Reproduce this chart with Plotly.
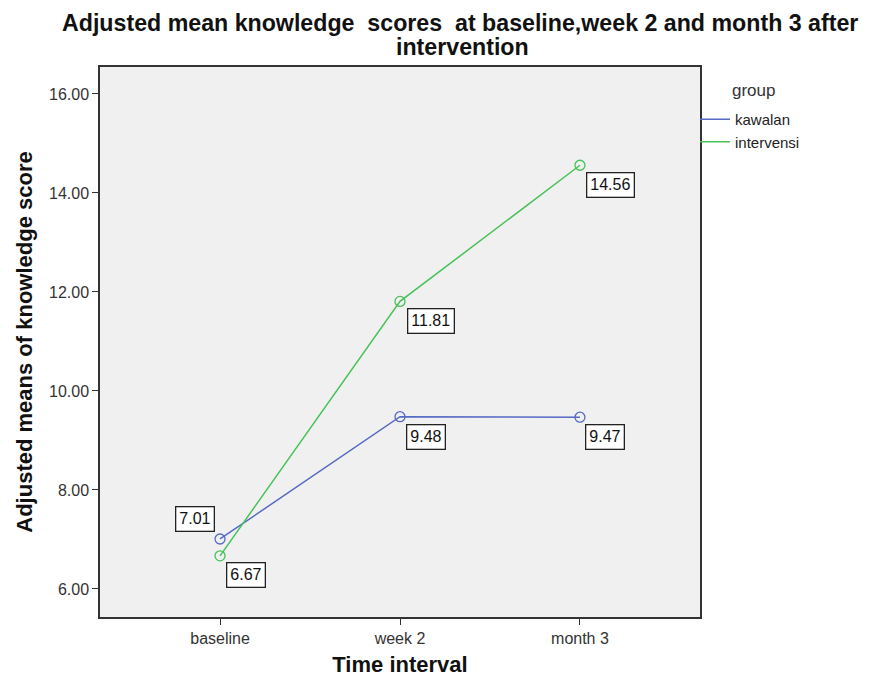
import plotly.graph_objects as go

categories = ["baseline", "week 2", "month 3"]
kawalan = [7.01, 9.48, 9.47]
intervensi = [6.67, 11.81, 14.56]
kawalan_labels = ["7.01", "9.48", "9.47"]
intervensi_labels = ["6.67", "11.81", "14.56"]
y_ticks = [6, 8, 10, 12, 14, 16]
y_tick_text = ["6.00", "8.00", "10.00", "12.00", "14.00", "16.00"]

BLUE = "#5669c4"
GREEN = "#45c257"


def px(xp):
    return (xp - 100) / 600


def py(yp):
    return (617 - yp) / 550


fig = go.Figure()
xs = [0, 1, 2]
for name, vals, col in [("kawalan", kawalan, BLUE), ("intervensi", intervensi, GREEN)]:
    fig.add_trace(go.Scatter(
        x=xs, y=vals, mode="lines+markers", name=name, showlegend=False,
        line=dict(color=col, width=1.5),
        marker=dict(symbol="circle-open", size=10, color=col, line=dict(width=1.3)),
    ))
for name, col in [("kawalan", BLUE), ("intervensi", GREEN)]:
    fig.add_trace(go.Scatter(x=[None], y=[None], mode="lines", name=name,
                             line=dict(color=col, width=1.5)))

ann_font = dict(family="Arial, Liberation Sans", size=16, color="#111")
offsets_k = [(-25.5, 19.5), (25.5, -20), (25.5, -20)]
offsets_i = [(25.5, -19.5), (30.5, -20), (30.5, -20)]
for i in range(3):
    for vals, labs, offs in [(kawalan, kawalan_labels, offsets_k), (intervensi, intervensi_labels, offsets_i)]:
        fig.add_annotation(x=xs[i], y=vals[i], text=labs[i], showarrow=False,
                           xshift=offs[i][0], yshift=offs[i][1],
                           bgcolor="white", bordercolor="#222", borderwidth=1.3, borderpad=3,
                           font=ann_font)

title_font = dict(family="Arial, Liberation Sans", size=23.2, color="#111", weight="bold")
fig.add_annotation(xref="paper", yref="paper", x=px(460), y=py(22.5), showarrow=False,
                   text="Adjusted mean knowledge&nbsp; scores&nbsp; at baseline,week 2 and month 3 after",
                   font=title_font, xanchor="center", yanchor="middle")
fig.add_annotation(xref="paper", yref="paper", x=px(462), y=py(47), showarrow=False,
                   text="intervention", font=title_font, xanchor="center", yanchor="middle")
fig.add_annotation(xref="paper", yref="paper", x=px(730), y=py(90),
                   showarrow=False, text="group", xanchor="left", yanchor="middle",
                   font=dict(family="Arial, Liberation Sans", size=17, color="#333"))

fig.update_layout(
    width=872, height=674,
    margin=dict(l=92, r=180, t=59, b=65, autoexpand=False),
    paper_bgcolor="white", plot_bgcolor="#f0f0f0",
    font=dict(family="Arial, Liberation Sans", color="#333"),
    xaxis=dict(range=[-0.667, 2.667], tickvals=xs, ticktext=categories, automargin=False,
               showgrid=False, zeroline=False, ticks="outside", ticklen=6, tickcolor="#333",
               showline=True, linecolor="#333", linewidth=1.5, mirror=True,
               tickfont=dict(size=16, color="#333"),
               title=dict(text="Time interval", font=dict(size=22, color="#111", weight="bold"), standoff=11)),
    yaxis=dict(range=[5.434, 16.545], tickvals=y_ticks, ticktext=y_tick_text, automargin=False,
               showgrid=False, zeroline=False, ticks="outside", ticklen=6, tickcolor="#333",
               showline=True, linecolor="#333", linewidth=1.5, mirror=True,
               tickfont=dict(size=16, color="#333"),
               title=dict(text="Adjusted means of knowledge score", font=dict(size=22, color="#111", weight="bold"), standoff=10)),
    legend=dict(x=px(695), xanchor="left", y=py(103), yanchor="top",
                font=dict(size=15, color="#222"), itemwidth=30, tracegroupgap=0,
                bgcolor="rgba(0,0,0,0)"),
)

fig.write_html("out.html")
